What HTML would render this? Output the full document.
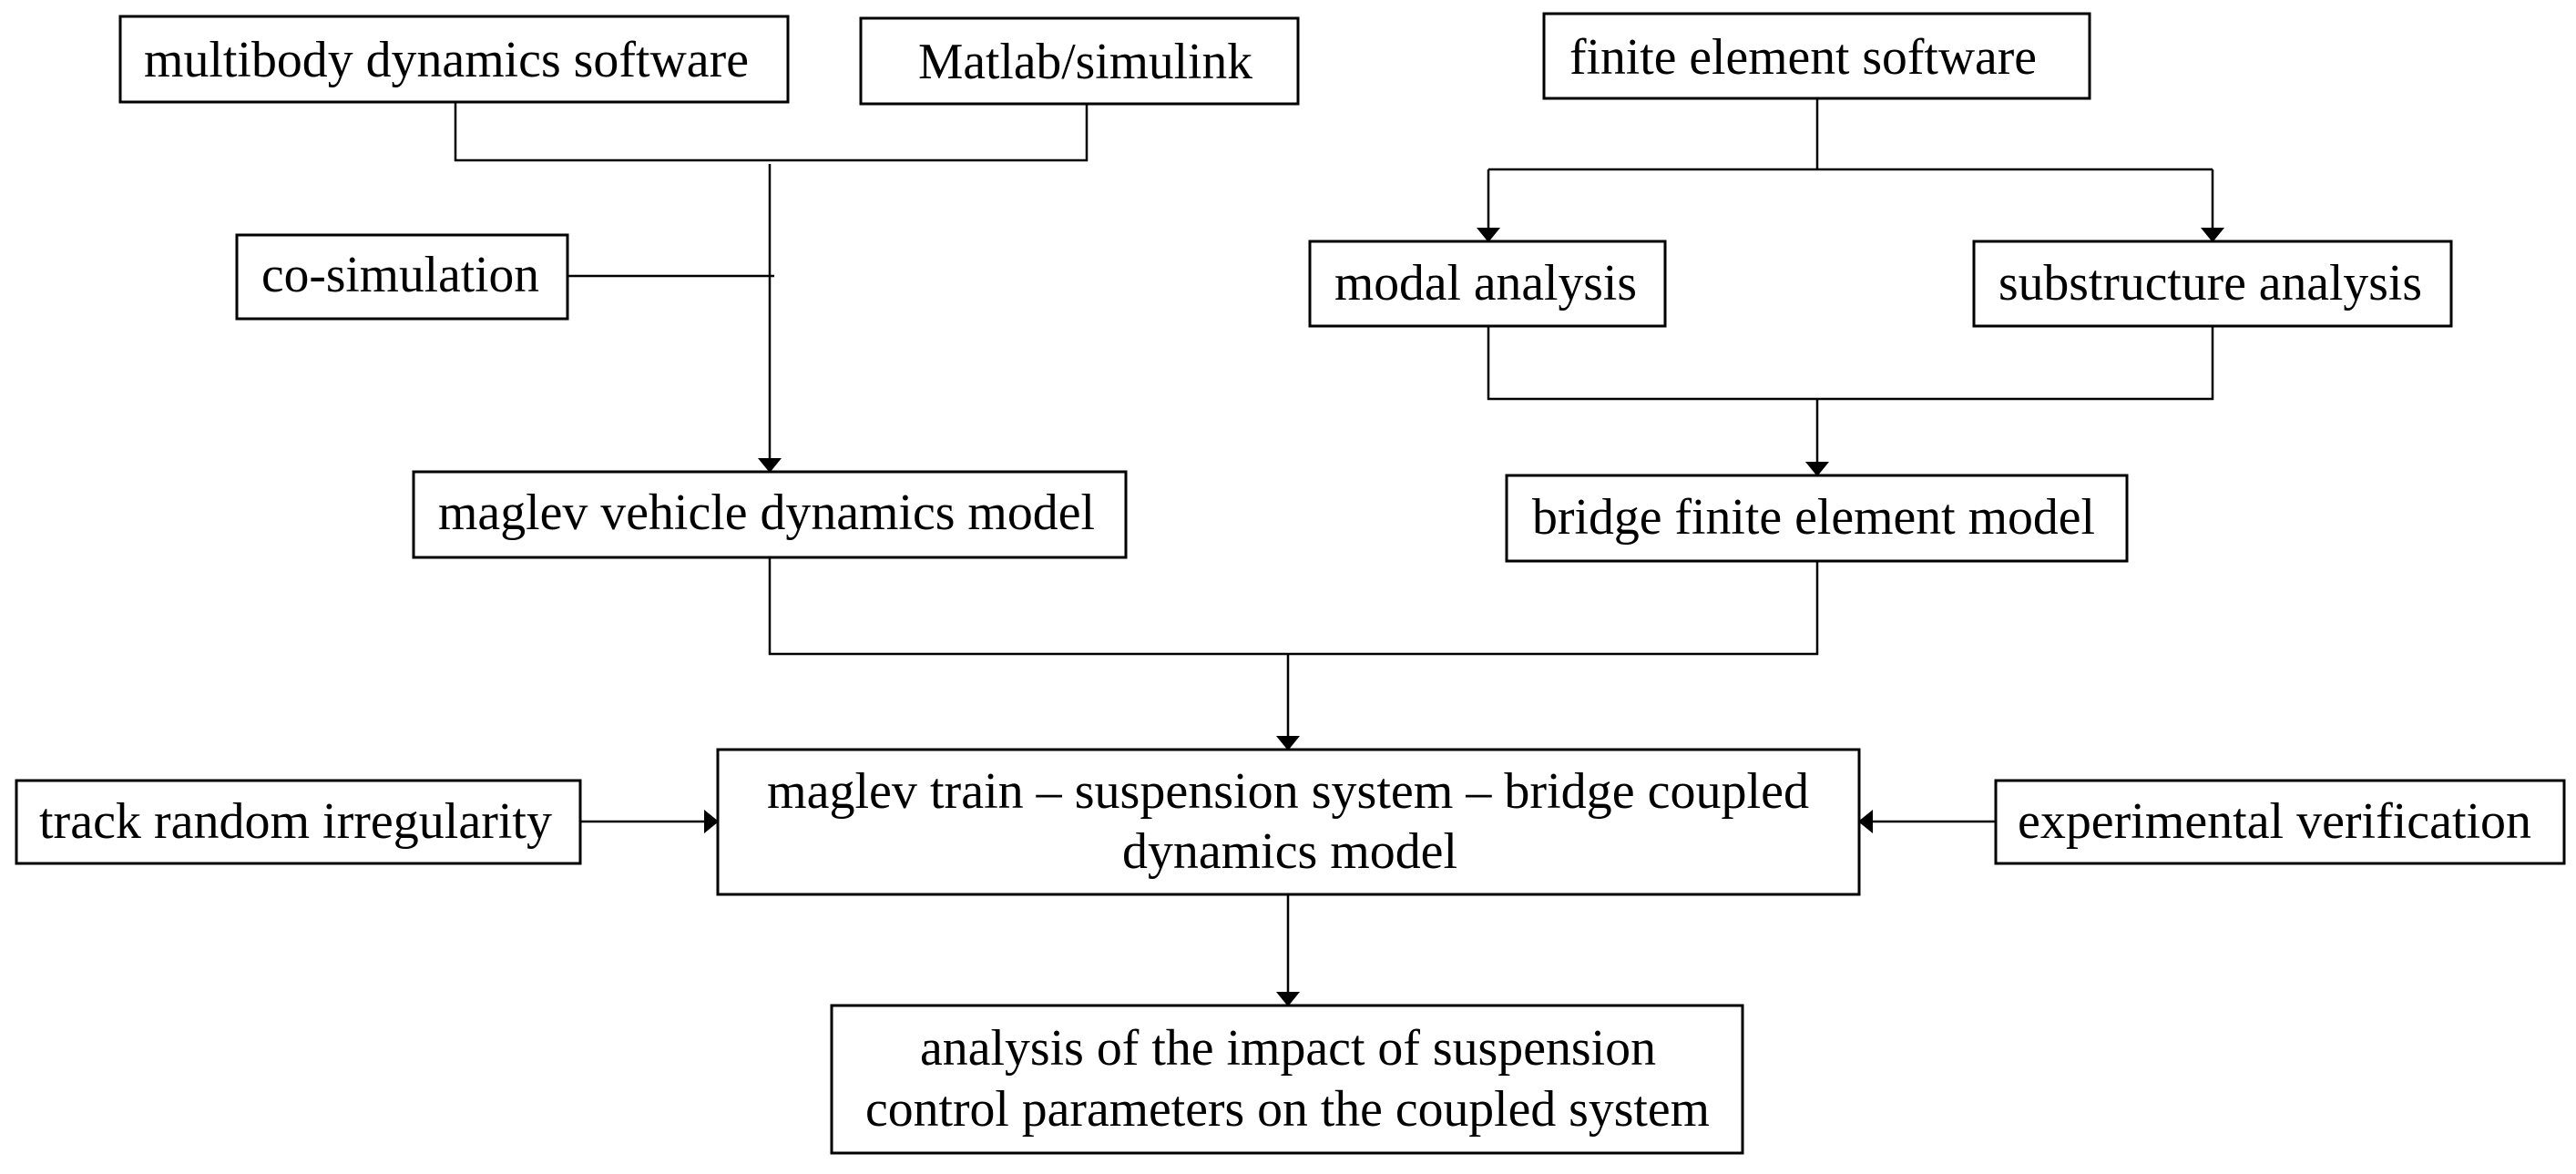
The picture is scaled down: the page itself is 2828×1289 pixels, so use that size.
<!DOCTYPE html>
<html><head><meta charset="utf-8"><style>
html,body{margin:0;padding:0;background:#fff}
svg{display:block}
text{font-family:"Liberation Serif",serif;font-size:56px;fill:#000}
</style></head><body>
<svg width="2828" height="1289" viewBox="0 0 2828 1289" xmlns="http://www.w3.org/2000/svg">
<defs>
<marker id="b" markerWidth="16" markerHeight="26" refX="15" refY="13" orient="auto" markerUnits="userSpaceOnUse"><path d="M0,0 L16,13 L0,26 z" fill="#000"/></marker></defs>
<g fill="none" stroke="#000" stroke-width="3">
<rect x="132" y="18" width="733" height="94"/>
<rect x="945" y="20" width="480" height="94"/>
<rect x="260" y="258" width="363" height="92"/>
<rect x="454" y="518" width="782" height="94"/>
<rect x="1695" y="15" width="599" height="93"/>
<rect x="1438" y="265" width="390" height="93"/>
<rect x="2167" y="265" width="524" height="93"/>
<rect x="1654" y="522" width="681" height="94"/>
<rect x="788" y="823" width="1253" height="159"/>
<rect x="18" y="857" width="619" height="91"/>
<rect x="2191" y="857" width="624" height="91"/>
<rect x="913" y="1104" width="1000" height="162"/>
</g>
<g fill="none" stroke="#000" stroke-width="2.5">
<polyline points="500,112 500,176 1193,176 1193,114"/>
<line x1="623" y1="303" x2="850" y2="303"/>
<line x1="845" y1="180" x2="845" y2="518" marker-end="url(#b)"/>
<line x1="1995" y1="108" x2="1995" y2="186"/>
<line x1="1634" y1="186" x2="2429" y2="186"/>
<line x1="1634" y1="186" x2="1634" y2="265" marker-end="url(#b)"/>
<line x1="2429" y1="186" x2="2429" y2="265" marker-end="url(#b)"/>
<polyline points="1634,358 1634,438 2429,438 2429,358"/>
<line x1="1995" y1="438" x2="1995" y2="522" marker-end="url(#b)"/>
<polyline points="845,612 845,718 1995,718 1995,616"/>
<line x1="1414" y1="718" x2="1414" y2="823" marker-end="url(#b)"/>
<line x1="637" y1="902" x2="788" y2="902" marker-end="url(#b)"/>
<line x1="2191" y1="902" x2="2041" y2="902" marker-end="url(#b)"/>
<line x1="1414" y1="982" x2="1414" y2="1104" marker-end="url(#b)"/>
</g>
<text x="158" y="84" textLength="664" lengthAdjust="spacingAndGlyphs">multibody dynamics software</text>
<text x="1008" y="86" textLength="367" lengthAdjust="spacingAndGlyphs">Matlab/simulink</text>
<text x="287" y="320" textLength="305" lengthAdjust="spacingAndGlyphs">co-simulation</text>
<text x="481" y="581" textLength="721" lengthAdjust="spacingAndGlyphs">maglev vehicle dynamics model</text>
<text x="1723" y="81" textLength="513" lengthAdjust="spacingAndGlyphs">finite element software</text>
<text x="1465" y="329" textLength="332" lengthAdjust="spacingAndGlyphs">modal analysis</text>
<text x="2194" y="329" textLength="465" lengthAdjust="spacingAndGlyphs">substructure analysis</text>
<text x="1682" y="586" textLength="618" lengthAdjust="spacingAndGlyphs">bridge finite element model</text>
<text x="842" y="887" textLength="1144" lengthAdjust="spacingAndGlyphs">maglev train – suspension system – bridge coupled</text>
<text x="1232" y="953" textLength="368" lengthAdjust="spacingAndGlyphs">dynamics model</text>
<text x="43" y="920" textLength="563" lengthAdjust="spacingAndGlyphs">track random irregularity</text>
<text x="2215" y="920" textLength="564" lengthAdjust="spacingAndGlyphs">experimental verification</text>
<text x="1010" y="1169" textLength="808" lengthAdjust="spacingAndGlyphs">analysis of the impact of suspension</text>
<text x="950" y="1236" textLength="927" lengthAdjust="spacingAndGlyphs">control parameters on the coupled system</text>
</svg>
</body></html>
